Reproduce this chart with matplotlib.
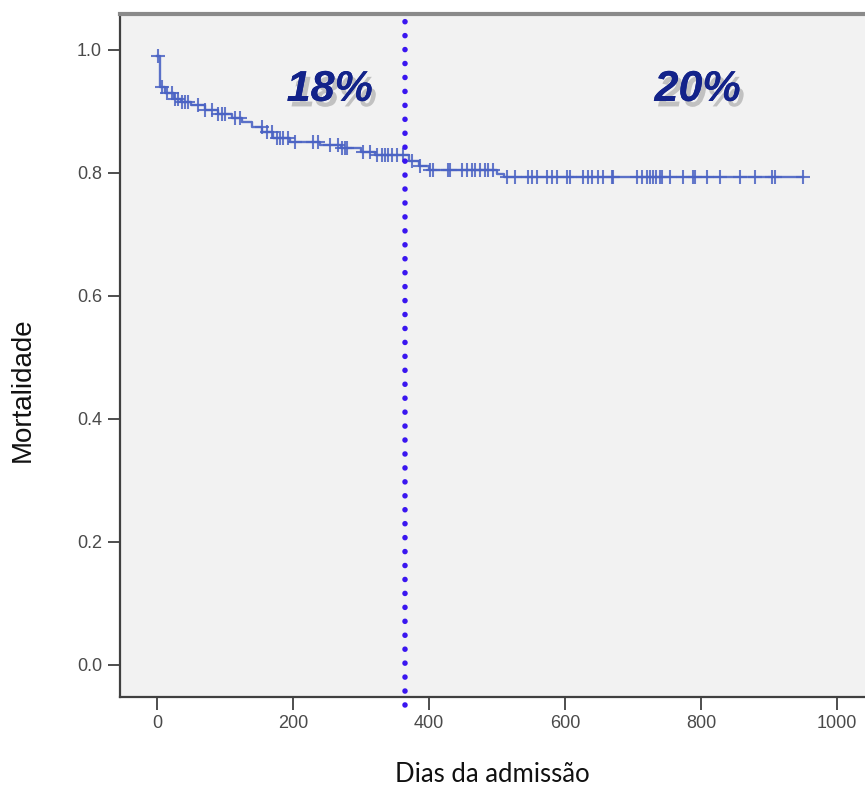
import numpy as np
import matplotlib.pyplot as plt
import matplotlib.patheffects as pe

# curva de Kaplan-Meier
tempos_evento = [0, 5, 12, 25, 35, 50, 70, 90, 110, 125, 140, 155, 170, 195,
                 240, 270, 300, 320, 370, 385, 400, 500, 510]
sobrevida = [0.99, 0.94, 0.93, 0.92, 0.915, 0.91, 0.903, 0.896, 0.889, 0.882,
             0.875, 0.866, 0.857, 0.851, 0.846, 0.84, 0.834, 0.829, 0.82,
             0.812, 0.805, 0.798, 0.793]
censuras = [1, 7, 15, 22, 26, 31, 37, 41, 46, 60, 71, 81, 90, 96, 100, 115, 122,
            154, 162, 169, 176, 181, 185, 193, 203, 229, 237, 254, 266, 272,
            276, 279, 303, 313, 324, 331, 335, 340, 346, 353, 362, 375, 387,
            401, 406, 428, 431, 449, 456, 463, 468, 475, 482, 487, 494, 515,
            526, 546, 551, 559, 574, 581, 588, 603, 607, 626, 634, 640, 649,
            656, 669, 671, 706, 713, 721, 725, 729, 734, 740, 743, 754, 774,
            788, 791, 809, 828, 857, 879, 904, 909, 950]
um_ano = 365
rotulos = ['18%', '20%']
x_rotulos = [254, 795]
y_rotulos = [0.935, 0.935]

cor = '#4b63c4'

fig = plt.figure(figsize=(8.65, 7.87), dpi=100)
ax = fig.add_axes([0.1387, 0.1144, 0.876, 0.8679])
ax.set_facecolor('#f2f2f2')

t = np.array(tempos_evento + [max(censuras)])
s = np.array(sobrevida + [sobrevida[-1]])
ax.step(t, s, where='post', color=cor, lw=1.7, alpha=0.9)

c = np.array(censuras)
idx = np.searchsorted(np.array(tempos_evento), c, side='right') - 1
ax.plot(c, np.array(sobrevida)[idx], '+', color=cor, ms=10, mew=1.5,
        alpha=0.85)

ax.axvline(um_ano, ymin=-0.012, ymax=0.99, color='#3a16f0', lw=4,
           linestyle=(0, (0.01, 2.5)), dash_capstyle='round', clip_on=False)

for txt, xx, yy in zip(rotulos, x_rotulos, y_rotulos):
    ax.text(xx, yy, txt, ha='center', va='center', fontsize=31,
            fontweight='bold', style='italic', color='#13238a',
            family='Liberation Sans',
            path_effects=[pe.withSimplePatchShadow(offset=(3, -4),
                                                   shadow_rgbFace='#666666',
                                                   alpha=0.35),
                          pe.Normal()])

ax.set_xlim(-54.4, 1060)
ax.set_ylim(-0.052, 1.0585)
ax.set_xticks([0, 200, 400, 600, 800, 1000])
ax.set_yticks([0.0, 0.2, 0.4, 0.6, 0.8, 1.0])
ax.set_yticklabels(['0.0', '0.2', '0.4', '0.6', '0.8', '1.0'])
ax.tick_params(direction='out', length=9, width=1.3, color='#404040',
               labelsize=13, labelcolor='#4a4a4a', pad=4)
for lab in ax.get_xticklabels() + ax.get_yticklabels():
    lab.set_family('Liberation Sans')

ax.spines['right'].set_visible(False)
ax.spines['top'].set_color('#8a8a8a')
ax.spines['top'].set_linewidth(3)
ax.spines['left'].set_color('#404040')
ax.spines['left'].set_linewidth(1.6)
ax.spines['bottom'].set_color('#404040')
ax.spines['bottom'].set_linewidth(1.6)

fig.text(0.026, 1 - 390 / 787, 'Mortalidade', rotation=90, ha='center',
         va='center', fontsize=20, family='Liberation Sans', color='#111111')
fig.text(492 / 865, 1 - 775 / 787, 'Dias da admissão', ha='center',
         va='center', fontsize=18.5, family='Lato', color='#111111')

fig.savefig('out.png', dpi=100)
